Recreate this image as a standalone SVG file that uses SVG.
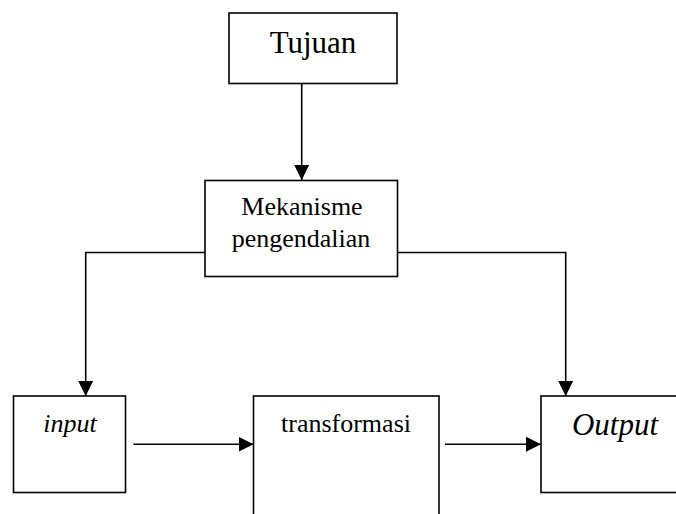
<svg xmlns="http://www.w3.org/2000/svg" width="676" height="514" viewBox="0 0 676 514">
<style>
.box{fill:#fff;stroke:#000;stroke-width:1.6}
.ln{fill:none;stroke:#000;stroke-width:1.6}
.t{font-family:"Liberation Serif","Times New Roman",serif;fill:#000;text-anchor:middle}
.i{font-style:italic}
</style>
<defs>
<marker id="ah" markerUnits="userSpaceOnUse" markerWidth="16" markerHeight="16" viewBox="0 0 16 16" refX="15" refY="8" orient="auto">
<path d="M0,0.5 L15,8 L0,15.5 Z" fill="#000"/>
</marker>
</defs>
<rect width="676" height="514" fill="#fff"/>
<g id="tujuan">
<rect class="box" x="229" y="13" width="168" height="70.5"/>
<text class="t" x="313" y="53" font-size="31">Tujuan</text>
</g>
<g id="mekanisme">
<rect class="box" x="205" y="180.5" width="192.5" height="96"/>
<text class="t" x="302" y="215" font-size="26">Mekanisme</text>
<text class="t" x="301" y="246.5" font-size="26">pengendalian</text>
</g>
<g id="input">
<rect class="box" x="13.5" y="396" width="112" height="96.5"/>
<text class="t i" x="70" y="431.5" font-size="26">input</text>
</g>
<g id="transformasi">
<rect class="box" x="253.5" y="396" width="185.5" height="130"/>
<text class="t" x="346" y="431.5" font-size="26">transformasi</text>
</g>
<g id="output">
<rect class="box" x="541" y="396" width="145" height="96.5"/>
<text class="t i" x="615" y="435" font-size="31">Output</text>
</g>
<g id="connectors">
<path class="ln" d="M301.7,83.5 V180" marker-end="url(#ah)"/>
<path class="ln" d="M205,252.5 H85.7 V396" marker-end="url(#ah)"/>
<path class="ln" d="M397.5,252.5 H565.7 V396" marker-end="url(#ah)"/>
<path class="ln" d="M133.3,444.3 H253.5" marker-end="url(#ah)"/>
<path class="ln" d="M445,444.3 H541" marker-end="url(#ah)"/>
</g>
</svg>
